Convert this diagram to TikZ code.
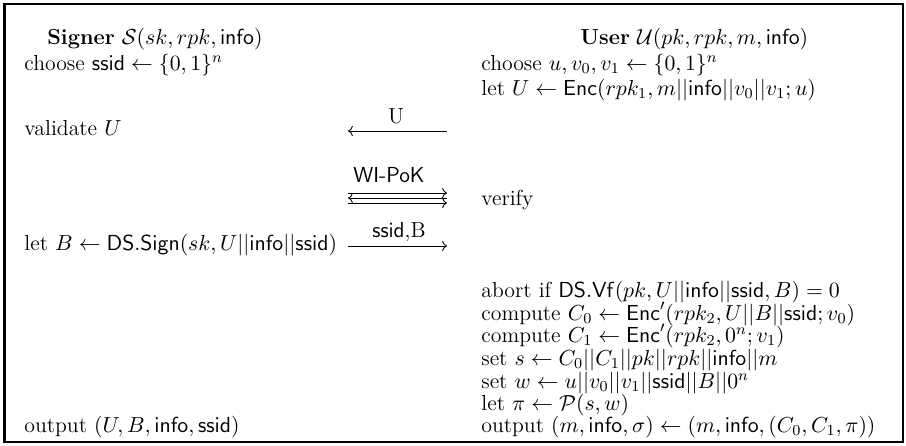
\RequirePackage{fix-cm}
\documentclass[tikz,border=0pt]{standalone}
\usetikzlibrary{arrows.meta}
\begin{document}
\begin{tikzpicture}[x=0.5333pt,y=-0.5333pt,
  every node/.style={font=\fontsize{11.6}{14}\selectfont},
  txt/.style={inner sep=0pt,anchor=base west,text height=7pt,text depth=2pt},
  lbl/.style={inner sep=0pt,anchor=base,text height=7pt,text depth=1pt},
  msg/.style={line width=0.45pt,-{Computer Modern Rightarrow}}]
\useasboundingbox (0,0) rectangle (906,445);
\draw[line width=1.1pt] (4.5,4) rectangle (903,442);
% headers
\node[txt] (sh) at (47,44) {\textbf{Signer} $\mathcal{S}(sk, rpk, \mathsf{info})$};
\node[txt] (uh) at (580,44) {\textbf{User} $\mathcal{U}(pk, rpk, m, \mathsf{info})$};
% signer column
\node[txt] (s1) at (24,70) {choose $\mathsf{ssid} \leftarrow \{0,1\}^n$};
\node[txt] (s2) at (24,135) {validate $U$};
\node[txt] (s3) at (24,250) {let $B \leftarrow \mathsf{DS.Sign}(sk, U||\mathsf{info}||\mathsf{ssid})$};
\node[txt] (s4) at (24,432) {output $(U, B, \mathsf{info}, \mathsf{ssid})$};
% user column
\node[txt] (u1) at (481,70) {choose $u, v_0, v_1 \leftarrow \{0,1\}^n$};
\node[txt] (u2) at (481,95) {let $U \leftarrow \mathsf{Enc}(rpk_1, m||\mathsf{info}||v_0||v_1; u)$};
\node[txt] (u3) at (481,205) {verify};
\node[txt] (u4) at (481,297) {abort if $\mathsf{DS.Vf}(pk, U||\mathsf{info}||\mathsf{ssid}, B) = 0$};
\node[txt] (u5) at (481,320) {compute $C_0 \leftarrow \mathsf{Enc}'(rpk_2, U||B||\mathsf{ssid}; v_0)$};
\node[txt] (u6) at (481,342) {compute $C_1 \leftarrow \mathsf{Enc}'(rpk_2, 0^n; v_1)$};
\node[txt] (u7) at (481,365) {set $s \leftarrow C_0||C_1||pk||rpk||\mathsf{info}||m$};
\node[txt] (u8) at (481,388) {set $w \leftarrow u||v_0||v_1||\mathsf{ssid}||B||0^n$};
\node[txt] (u9) at (481,410) {let $\pi \leftarrow \mathcal{P}(s, w)$};
\node[txt] (u10) at (481,432) {output $(m, \mathsf{info}, \sigma) \leftarrow (m, \mathsf{info}, (C_0, C_1, \pi))$};
% messages
\coordinate (aL) at (348,131); \coordinate (aR) at (447,131);
\draw[msg] (aR) -- (aL);
\node[lbl] (la) at (396,123) {U};
\coordinate (bL1) at (348,193); \coordinate (bR1) at (447,193);
\coordinate (bL2) at (348,198); \coordinate (bR2) at (447,198);
\coordinate (bL3) at (348,203); \coordinate (bR3) at (447,203);
\draw[msg] (bL1) -- (bR1);
\draw[msg] (bR2) -- (bL2);
\draw[msg] (bL3) -- (bR3);
\node[lbl] (lb) at (389,182) {\textsf{WI-PoK}};
\coordinate (cL) at (348,246); \coordinate (cR) at (447,246);
\draw[msg] (cL) -- (cR);
\node[lbl] (lc) at (399,237) {\textsf{ssid},B};
\end{tikzpicture}
\end{document}
